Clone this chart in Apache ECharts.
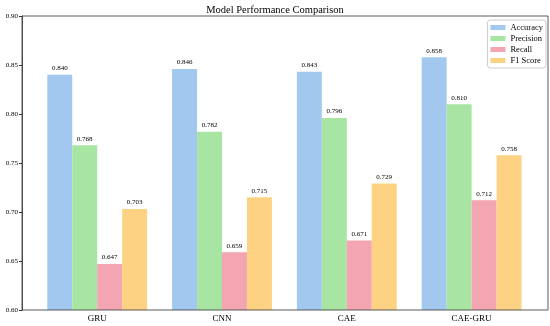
<!DOCTYPE html>
<html><head><meta charset="utf-8">
<script src="https://cdn.jsdelivr.net/npm/echarts@6/dist/echarts.min.js"></script>
<style>html,body{margin:0;padding:0;background:#fff}#c{width:550px;height:326px}</style>
</head><body><div id="c"></div>
<script>
const categories = ['GRU', 'CNN', 'CAE', 'CAE-GRU'];
const accuracy = [0.840, 0.846, 0.843, 0.858];
const precision = [0.768, 0.782, 0.796, 0.810];
const recall = [0.647, 0.659, 0.671, 0.712];
const f1 = [0.703, 0.715, 0.729, 0.758];
const seriesNames = ['Accuracy', 'Precision', 'Recall', 'F1 Score'];
const yTicks = { min: 0.60, max: 0.90, step: 0.05 };
const colors = ['#a3c8f0', '#a8e5a2', '#f3a6b1', '#fdd383'];
const font = '"Liberation Serif", "DejaVu Serif", serif';
const chart = echarts.init(document.getElementById('c'));
const mk = (name, data, i) => ({
  name, type: 'bar', data, barGap: 0, barCategoryGap: '20%', xAxisIndex: 1, yAxisIndex: 1,
  itemStyle: { color: colors[i] },
  label: { show: true, position: 'top', distance: 3, fontFamily: font, fontSize: 7, color: '#000',
    formatter: p => p.value.toFixed(3) }
});
chart.setOption({
  animation: false,
  title: { text: 'Model Performance Comparison', left: 'center', top: 0,
    textStyle: { fontFamily: font, fontSize: 10.5, fontWeight: 'normal', color: '#000' } },
  legend: {
    orient: 'vertical', right: 4, top: 20, itemWidth: 15, itemHeight: 5, itemGap: 2,
    borderColor: '#ccc', borderWidth: 1, borderRadius: 3, padding: [3, 3, 3, 3],
    textStyle: { fontFamily: font, fontSize: 8.5, color: '#000' },
    data: seriesNames.map(n => ({ name: n, icon: 'rect' }))
  },
  grid: [
    { left: 22, right: 2, top: 16, bottom: 16 },
    { left: 34.8, right: 16, top: 16, bottom: 16 }
  ],
  xAxis: [
    { type: 'value', gridIndex: 0, show: false, min: 0, max: 1 },
    {
      type: 'category', gridIndex: 1, data: categories,
      axisLine: { show: false },
      axisTick: { alignWithLabel: true, length: 3, lineStyle: { color: '#333' } },
      axisLabel: { fontFamily: font, fontSize: 9, color: '#000', margin: 4 }
    }
  ],
  yAxis: [
    {
      type: 'value', gridIndex: 0, min: yTicks.min, max: yTicks.max, interval: yTicks.step,
      splitLine: { show: false },
      axisLine: { show: true, lineStyle: { color: '#333', width: 0.8 } },
      axisTick: { show: true, length: 3, lineStyle: { color: '#333' } },
      axisLabel: { fontFamily: font, fontSize: 7, color: '#000', margin: 4, formatter: v => v.toFixed(2) }
    },
    { type: 'value', gridIndex: 1, min: yTicks.min, max: yTicks.max, interval: yTicks.step, show: false, splitLine: { show: false } }
  ],
  series: [mk('Accuracy', accuracy, 0), mk('Precision', precision, 1), mk('Recall', recall, 2), mk('F1 Score', f1, 3)],
  graphic: [{ type: 'rect', shape: { x: 22, y: 16, width: 526, height: 294 }, style: { fill: 'none', stroke: '#333', lineWidth: 0.8 }, silent: true, z: 100 }]
});
</script></body></html>
